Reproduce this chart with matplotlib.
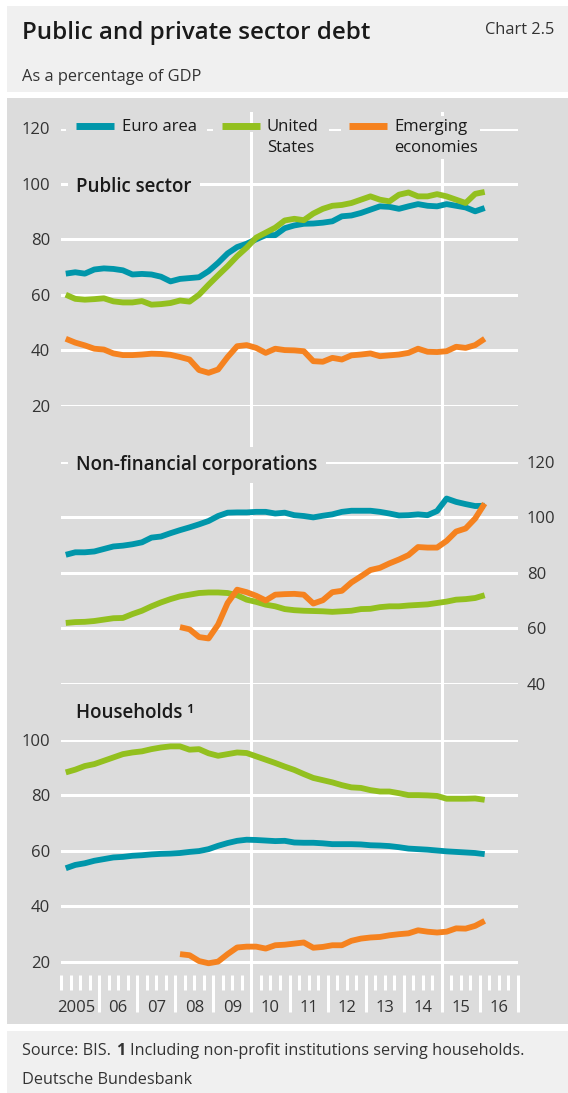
import numpy as np
import matplotlib.pyplot as plt
from matplotlib.patches import Rectangle
from matplotlib.lines import Line2D

plt.rcParams['font.family'] = ['Open Sans', 'DejaVu Sans']

# quarterly data, 2005Q1 - 2016Q1, as % of GDP
quarters = [f"{y}Q{q}" for y in range(2005, 2017) for q in range(1, 5)][:45]
em_first = '2008Q1'   # emerging economies private debt starts here
year_labels = ['2005', '06', '07', '08', '09', '10', '11', '12', '13', '14', '15', '16']

euro_pub = [67.6, 68.1, 67.6, 69.1, 69.5, 69.3, 68.8, 67.3, 67.5, 67.3, 66.5, 64.8, 65.7, 66.0, 66.3,
            68.5, 71.5, 74.9, 77.2, 78.4, 80.0, 81.5, 81.5, 84.0, 85.0, 85.6, 85.7, 86.0, 86.5, 88.3,
            88.6, 89.5, 90.7, 91.9, 91.7, 91.0, 91.9, 92.7, 92.1, 91.9, 92.7, 92.1, 91.5, 90.1, 91.3]
us_pub = [60.0, 58.5, 58.2, 58.4, 58.7, 57.6, 57.2, 57.2, 57.7, 56.4, 56.6, 57.0, 57.9, 57.5, 60.0,
          63.6, 67.0, 70.3, 73.9, 77.0, 80.6, 82.4, 84.2, 86.8, 87.4, 86.9, 89.3, 91.0, 92.1, 92.4,
          93.1, 94.3, 95.5, 94.3, 93.7, 96.1, 96.9, 95.5, 95.5, 96.3, 95.5, 94.3, 93.1, 96.4, 97.1]
em_pub = [44.1, 42.7, 41.7, 40.5, 40.2, 38.8, 38.2, 38.2, 38.4, 38.7, 38.6, 38.3, 37.5, 36.6, 32.8,
          31.8, 33.0, 37.5, 41.4, 41.8, 40.8, 39.0, 40.5, 40.0, 39.9, 39.6, 36.0, 35.8, 37.2, 36.6,
          38.1, 38.4, 38.8, 37.8, 38.1, 38.4, 39.0, 40.5, 39.4, 39.3, 39.6, 41.2, 40.8, 41.8, 44.1]

euro_nfc = [86.5, 87.4, 87.4, 87.7, 88.6, 89.5, 89.8, 90.3, 91.0, 92.7, 93.1, 94.3, 95.4, 96.4, 97.5,
            98.7, 100.5, 101.7, 101.8, 101.8, 102.0, 102.0, 101.4, 101.7, 100.8, 100.5, 100.0, 100.6,
            101.1, 102.0, 102.4, 102.4, 102.4, 102.0, 101.4, 100.7, 100.8, 101.1, 100.8, 102.3, 106.8,
            105.6, 104.8, 104.1, 104.2]
us_nfc = [61.9, 62.2, 62.3, 62.6, 63.1, 63.6, 63.7, 65.1, 66.3, 67.9, 69.3, 70.5, 71.5, 72.1, 72.7,
          72.9, 72.9, 72.7, 71.9, 70.3, 69.5, 68.5, 67.9, 66.9, 66.5, 66.3, 66.2, 66.1, 65.9, 66.1,
          66.3, 66.9, 67.0, 67.6, 67.9, 67.9, 68.2, 68.4, 68.6, 69.1, 69.6, 70.3, 70.5, 70.9, 71.9]
em_nfc = [60.4, 59.6, 56.8, 56.3, 61.3, 69.1, 73.9, 73.0, 71.7, 70.0, 72.1, 72.3, 72.4, 72.1, 68.9,
          70.1, 73.0, 73.5, 76.5, 78.7, 81.0, 81.8, 83.4, 84.8, 86.4, 89.3, 89.1, 89.1, 91.5, 94.9,
          96.0, 99.6, 105.0]

euro_hh = [53.7, 54.9, 55.5, 56.4, 57.0, 57.6, 57.8, 58.2, 58.4, 58.7, 58.9, 59.0, 59.2, 59.6, 59.9,
           60.6, 61.8, 62.8, 63.6, 64.0, 63.9, 63.7, 63.5, 63.6, 63.0, 62.9, 62.9, 62.7, 62.4, 62.4,
           62.4, 62.3, 62.0, 61.9, 61.7, 61.3, 60.8, 60.6, 60.4, 60.1, 59.8, 59.6, 59.4, 59.2, 58.8]
us_hh = [88.3, 89.3, 90.6, 91.3, 92.5, 93.7, 94.9, 95.5, 95.9, 96.7, 97.3, 97.7, 97.7, 96.5, 96.7,
         95.2, 94.3, 94.9, 95.5, 95.3, 94.1, 92.9, 91.7, 90.4, 89.2, 87.7, 86.3, 85.5, 84.7, 83.7,
         82.9, 82.7, 81.9, 81.4, 81.4, 80.8, 80.1, 80.1, 80.0, 79.8, 78.8, 78.8, 78.8, 78.9, 78.4]
em_hh = [22.7, 22.3, 20.2, 19.4, 20.0, 22.7, 25.1, 25.4, 25.4, 24.7, 25.9, 26.1, 26.5, 26.9, 25.0,
         25.3, 25.9, 25.9, 27.5, 28.3, 28.7, 28.9, 29.5, 29.9, 30.2, 31.3, 30.8, 30.5, 30.8, 32.0,
         31.9, 32.9, 34.7]

EURO, US, EM = '#0096aa', '#93c01f', '#f5821f'
PANEL, HEAD = '#dcdcdc', '#f0f0f0'
TXT, TICK = '#1a1a1a', '#333333'

# x as decimal year, middle of the quarter
t = np.array([int(q[:4]) + (int(q[-1]) - 1) / 4 + 0.125 for q in quarters])
t_em = t[quarters.index(em_first):]

W, H = 568, 1093
fig = plt.figure(figsize=(W / 100, H / 100), dpi=100)
fig.patch.set_facecolor('white')


def fy(y):
    return 1 - y / H


def add_ax(y_top, y_bot, x0=61, x1=518):
    ax = fig.add_axes([x0 / W, fy(y_bot), (x1 - x0) / W, (y_bot - y_top) / H])
    ax.set_facecolor('none')
    ax.set_xlim(2005, 2017)
    for s in ax.spines.values():
        s.set_visible(False)
    return ax


# background panels
for y0, y1, c in [(6, 92, HEAD), (98, 1024, PANEL), (1031, 1093, HEAD)]:
    fig.add_artist(Rectangle((7 / W, fy(y1)), (W - 7) / W, (y1 - y0) / H,
                             transform=fig.transFigure, color=c, lw=0, zorder=-10))

# white vertical markers at 2010 and 2015
bg = add_ax(112, 1012)
bg.axis('off')
for yr in (2010, 2015):
    bg.axvline(yr, color='white', lw=2.2)

K = 2.77  # px per percentage point, same on all three panels
ax1 = add_ax(128.5, 128.5 + 100 * K)
ax1.set_ylim(20, 120)
ax2 = add_ax(462, 462 + 80 * K)
ax2.set_ylim(40, 120)
ax3 = add_ax(740, 975)
ax3.set_ylim(100 - (975 - 740) / K, 100)

panels = [(ax1, euro_pub, us_pub, em_pub, t, range(20, 121, 20)),
          (ax2, euro_nfc, us_nfc, em_nfc, t_em, range(40, 121, 20)),
          (ax3, euro_hh, us_hh, em_hh, t_em, range(20, 101, 20))]
handles = None
for ax, eu, us, em, tem, yt in panels:
    h1, = ax.plot(t, eu, color=EURO, lw=4.2, solid_capstyle='butt', zorder=3)
    h2, = ax.plot(t, us, color=US, lw=4.2, solid_capstyle='butt', zorder=3)
    h3, = ax.plot(tem, em, color=EM, lw=4.2, solid_capstyle='butt', zorder=3)
    handles = handles or (h1, h2, h3)
    ax.set_yticks(list(yt))
    ax.yaxis.grid(True, color='white', lw=2.2)
    ax.set_axisbelow(True)
    ax.tick_params(axis='y', length=0, labelsize=12, labelcolor=TICK, pad=8)
    ax.tick_params(axis='x', which='both', bottom=False, labelbottom=False)

ax2.yaxis.tick_right()
ax2.tick_params(axis='y', pad=6.5)

# quarter / year ticks below the households panel
ax3.set_xticks(range(2006, 2018))
ax3.set_xticks(np.arange(2005, 2017.01, 0.25), minor=True)
ax3.tick_params(axis='x', which='major', bottom=True, length=26.6, width=2.2, color='white')
ax3.tick_params(axis='x', which='minor', bottom=True, length=10.8, width=2.2, color='white')
for i, lbl in enumerate(year_labels):
    ax3.annotate(lbl, xy=(2005.5 + i, 0), xycoords=('data', 'axes fraction'),
                 xytext=(-3 if i == 0 else 0, -23.5), textcoords='offset points',
                 ha='center', va='center', fontsize=12, color=TICK)

# legend along the 120 gridline
legend_items = [(['Euro area'], 76, 122, 66, 207),
                (['United', 'States'], 222, 267, 213, 329),
                (['Emerging', 'economies'], 349, 394, 341, 480)]
for h, (lines, sx, tx, b0, b1) in zip(handles, legend_items):
    fig.add_artist(Rectangle((b0 / W, fy(131.5)), (b1 - b0) / W, 6 / H,
                             transform=fig.transFigure, color=PANEL, lw=0, zorder=2.5))
    fig.add_artist(Line2D([sx / W, (sx + 38) / W], [fy(125.5), fy(125.5)],
                          transform=fig.transFigure, color=h.get_color(), lw=5,
                          solid_capstyle='butt', zorder=4))
    for k, line in enumerate(lines):
        fig.text(tx / W, fy(131 + 21 * k), line, fontsize=12, color=TXT, va='baseline',
                 bbox=dict(boxstyle='square,pad=0.2', fc=PANEL, ec='none'))

# panel titles sitting on gridlines
title_box = dict(boxstyle='square,pad=0.45', fc=PANEL, ec='none')
fig.text(76 / W, fy(192), 'Public sector', fontsize=13.5, weight='semibold', color=TXT,
         va='baseline', bbox=title_box)
fig.text(76 / W, fy(470), 'Non-financial corporations', fontsize=13.5, weight='semibold',
         color=TXT, va='baseline', bbox=title_box)
fig.text(76 / W, fy(718), 'Households \u00b9', fontsize=13.5, weight='semibold', color=TXT,
         va='baseline')

# header
fig.text(22.5 / W, fy(39), 'Public and private sector debt', fontsize=17.4, weight='semibold',
         color=TXT, va='baseline')
fig.text(554 / W, fy(34), 'Chart 2.5', fontsize=11.8, color=TICK, ha='right', va='baseline')
fig.text(22 / W, fy(81), 'As a percentage of GDP', fontsize=11.8, color=TICK, va='baseline')

# footer
fs = 11.7
s1 = fig.text(22 / W, fy(1055), 'Source: BIS.', fontsize=fs, color=TICK, va='baseline')
s2 = bg.annotate('1', xy=(1, 0), xycoords=s1, xytext=(3.5, 0), textcoords='offset points',
                 fontsize=fs, weight='bold', color=TICK, va='bottom', annotation_clip=False)
bg.annotate('Including non-profit institutions serving households.', xy=(1, 0), xycoords=s2,
            xytext=(3.5, 0), textcoords='offset points', fontsize=fs, color=TICK,
            va='bottom', annotation_clip=False)
fig.text(22 / W, fy(1084), 'Deutsche Bundesbank', fontsize=fs, color=TICK, va='baseline')

fig.savefig('out.png', dpi=100)
